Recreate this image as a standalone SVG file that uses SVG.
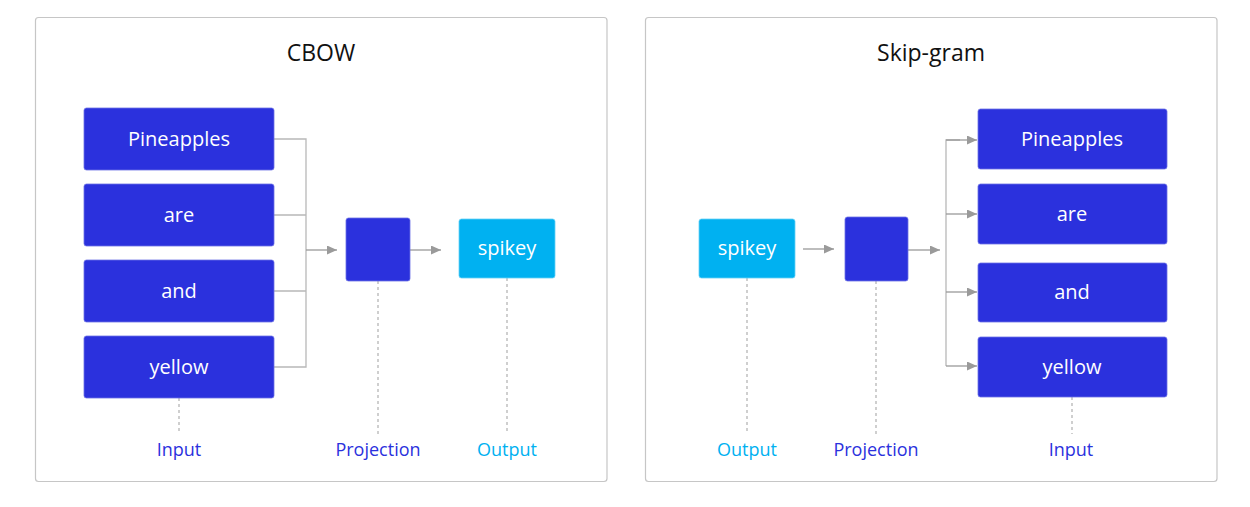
<svg xmlns="http://www.w3.org/2000/svg" width="1250" height="507" viewBox="0 0 1250 507">
<style>
.panel{fill:#fff;stroke:#c6c6c6;stroke-width:1.2}
.b{fill:#2b31dd;stroke:#6d72e6;stroke-width:0.8}
.c{fill:#00b1f1;stroke:#66d0f6;stroke-width:0.8}
.t{font-family:"Open Sans","Noto Sans",sans-serif;font-size:20px;fill:#fff;text-anchor:middle}
.title{font-family:"Open Sans","Noto Sans",sans-serif;font-size:23px;fill:#111;text-anchor:middle}
.lb{font-family:"Open Sans","Noto Sans",sans-serif;font-size:18px;fill:#2b31dd;text-anchor:middle}
.lc{font-family:"Open Sans","Noto Sans",sans-serif;font-size:18px;fill:#00b1f1;text-anchor:middle}
.ln{fill:none;stroke:#b8b8b8;stroke-width:1.3}
.ar{fill:none;stroke:#9a9a9a;stroke-width:1.3;marker-end:url(#ah)}
.ds{fill:none;stroke:#b0b0b0;stroke-width:1.2;stroke-dasharray:3 3}
</style>
<defs>
<marker id="ah" markerWidth="10" markerHeight="9" refX="10" refY="4.5" orient="auto" markerUnits="userSpaceOnUse">
<path d="M0,0 L10,4.5 L0,9 Z" fill="#9a9a9a"/>
</marker>
</defs>
<rect width="1250" height="507" fill="#fff"/>
<g id="panel-cbow">
<rect class="panel" x="35.5" y="17.5" width="571.5" height="464" rx="3"/>
<text class="title" x="321" y="61">CBOW</text>
</g>
<g id="panel-skipgram">
<rect class="panel" x="645.5" y="17.5" width="571.5" height="464" rx="3"/>
<text class="title" x="931" y="61">Skip-gram</text>
</g>
<g id="connectors">
<path class="ln" d="M274,139 H306 V367 H274 M274,215 H306 M274,291 H306"/>
<path class="ar" d="M306,250 H337"/>
<path class="ar" d="M410,250 H441"/>
<path class="ds" d="M179,398 V434 M378,281 V434 M507,278 V434"/>
<path class="ar" d="M803,249 H834"/>
<path class="ar" d="M908,250 H940"/>
<path class="ln" d="M946,366 V140 H960"/>
<path class="ar" d="M946,140 H977"/>
<path class="ar" d="M946,214 H977"/>
<path class="ar" d="M946,292 H977"/>
<path class="ar" d="M946,366 H977"/>
<path class="ds" d="M747,278 V434 M876,281 V434 M1072,397 V434"/>
</g>
<g id="cbow-pineapples"><rect class="b" x="84" y="108" width="190" height="62" rx="2.5"/><text class="t" x="179" y="146">Pineapples</text></g>
<g id="cbow-are"><rect class="b" x="84" y="184" width="190" height="62" rx="2.5"/><text class="t" x="179" y="222">are</text></g>
<g id="cbow-and"><rect class="b" x="84" y="260" width="190" height="62" rx="2.5"/><text class="t" x="179" y="298">and</text></g>
<g id="cbow-yellow"><rect class="b" x="84" y="336" width="190" height="62" rx="2.5"/><text class="t" x="179" y="374">yellow</text></g>
<g id="cbow-projection"><rect class="b" x="346" y="218" width="64" height="63" rx="2.5"/></g>
<g id="cbow-spikey"><rect class="c" x="459" y="219" width="96" height="59" rx="2.5"/><text class="t" x="507" y="255">spikey</text></g>
<g id="cbow-labels">
<text class="lb" x="179" y="456">Input</text>
<text class="lb" x="378" y="456">Projection</text>
<text class="lc" x="507" y="456">Output</text>
</g>
<g id="sg-spikey"><rect class="c" x="699" y="219" width="96" height="59" rx="2.5"/><text class="t" x="747" y="255">spikey</text></g>
<g id="sg-projection"><rect class="b" x="845" y="217" width="63" height="64" rx="2.5"/></g>
<g id="sg-pineapples"><rect class="b" x="978" y="109" width="189" height="60" rx="2.5"/><text class="t" x="1072" y="146">Pineapples</text></g>
<g id="sg-are"><rect class="b" x="978" y="184" width="189" height="60" rx="2.5"/><text class="t" x="1072" y="221">are</text></g>
<g id="sg-and"><rect class="b" x="978" y="263" width="189" height="59" rx="2.5"/><text class="t" x="1072" y="299">and</text></g>
<g id="sg-yellow"><rect class="b" x="978" y="337" width="189" height="60" rx="2.5"/><text class="t" x="1072" y="374">yellow</text></g>
<g id="sg-labels">
<text class="lc" x="747" y="456">Output</text>
<text class="lb" x="876" y="456">Projection</text>
<text class="lb" x="1071" y="456">Input</text>
</g>
</svg>
